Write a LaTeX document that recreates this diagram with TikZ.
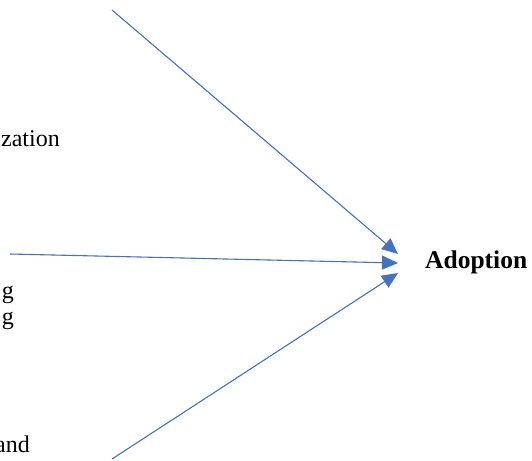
\documentclass[tikz,border=0pt]{standalone}
\usepackage{fontspec}
\setmainfont{Liberation Serif}
\usetikzlibrary{arrows.meta}
\definecolor{linkblue}{HTML}{4472C4}
\begin{document}
\begin{tikzpicture}[x=1pt,y=-1pt,
  lbl/.style={inner sep=0pt,font=\fontsize{24}{28}\selectfont},
  link/.style={draw=linkblue,line width=1.1pt,
    -{Triangle[length=16pt,width=14pt]},fill=linkblue}]
\useasboundingbox (0,0) rectangle (532,460);
% partially visible factor labels on the left
\node[lbl,anchor=base east] (f1) at (60,146) {zation};
\node[lbl,anchor=base east] (f2) at (14,298) {g};
\node[lbl,anchor=base east] (f3) at (14,324) {g};
\node[lbl,anchor=base east] (f4) at (30,452) {and};
% outcome
\node[lbl,anchor=base west,font=\fontsize{25.5}{30}\selectfont\bfseries] (adopt) at (425,268) {Adoption};
% arrow ends
\coordinate (s1) at (112,10);
\coordinate (s2) at (10,254);
\coordinate (s3) at (112,459);
\coordinate (t1) at (398,254);
\coordinate (t2) at (398,263);
\coordinate (t3) at (398,273);
\draw[link] (s1) -- (t1);
\draw[link] (s2) -- (t2);
\draw[link] (s3) -- (t3);
\end{tikzpicture}
\end{document}
